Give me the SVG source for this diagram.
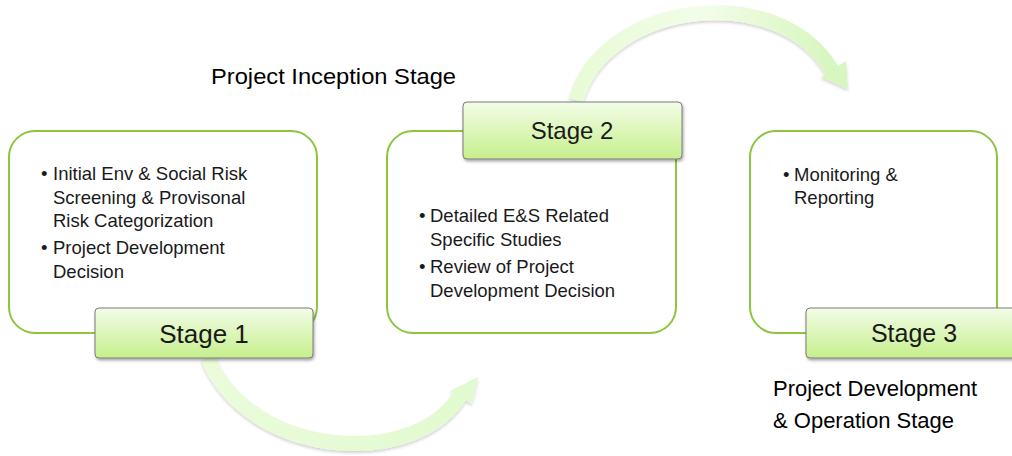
<svg xmlns="http://www.w3.org/2000/svg" width="1012" height="456" viewBox="0 0 1012 456">
<defs>
<linearGradient id="lbl" x1="0" y1="0" x2="0" y2="1">
<stop offset="0" stop-color="#f3fde8"/>
<stop offset="1" stop-color="#c6ef8c"/>
</linearGradient>
<linearGradient id="arrB" x1="0" y1="0" x2="1" y2="0">
<stop offset="0" stop-color="#eafcda"/>
<stop offset="1" stop-color="#e2fad0"/>
</linearGradient>
<linearGradient id="arrT" x1="0" y1="0" x2="1" y2="0">
<stop offset="0" stop-color="#e8fbd6"/>
<stop offset="0.5" stop-color="#f2fde8"/>
<stop offset="1" stop-color="#d8f6bf"/>
</linearGradient>
<filter id="sh" x="-10%" y="-20%" width="120%" height="150%">
<feDropShadow dx="1" dy="2" stdDeviation="1.5" flood-color="#000" flood-opacity="0.35"/>
</filter>
<filter id="ash" x="-10%" y="-20%" width="120%" height="150%">
<feDropShadow dx="0" dy="2" stdDeviation="1.5" flood-color="#000" flood-opacity="0.18"/>
</filter>
</defs>
<style>
.box{fill:#fff;stroke:#8cc63e;stroke-width:2}
.lbl{fill:url(#lbl);stroke:#7a7a7a;stroke-width:1}
.t{font-family:"Liberation Sans",Arial,sans-serif;fill:#1a1a1a}
.body{font-size:18.5px}
.stage{text-anchor:middle}
.title{font-size:22px;fill:#000}
</style>
<rect width="1012" height="456" fill="#fff"/>
<g id="connectors">
<g filter="url(#ash)">
<path d="M208,358 C250,460 420,470 462,392" fill="none" stroke="url(#arrB)" stroke-width="15"/>
<polygon points="478,377 450,391 472,404" fill="#e2fad0"/>
</g>
<g filter="url(#ash)">
<path d="M576,100 C605,0 780,-20 832,71" fill="none" stroke="url(#arrT)" stroke-width="15"/>
<polygon points="848,89 846,61 821,77" fill="#d8f6bf"/>
</g>
</g>
<g id="title-inception">
<text class="t title" x="211" y="84" textLength="245" lengthAdjust="spacingAndGlyphs">Project Inception Stage</text>
</g>
<g id="title-development">
<text class="t title" x="773" y="396">Project Development</text>
<text class="t title" x="773" y="428">&amp; Operation Stage</text>
</g>
<g id="stage1">
<rect class="box" x="9" y="131" width="308" height="202" rx="26"/>
<text class="t body" x="41" y="180">•</text>
<text class="t body" x="53" y="180">Initial Env &amp; Social Risk</text>
<text class="t body" x="53" y="203.5">Screening &amp; Provisonal</text>
<text class="t body" x="53" y="227">Risk Categorization</text>
<text class="t body" x="41" y="254">•</text>
<text class="t body" x="53" y="254">Project Development</text>
<text class="t body" x="53" y="277.5">Decision</text>
<rect class="lbl" x="95" y="308" width="218" height="50" rx="4" filter="url(#sh)"/>
<text class="t stage" x="204" y="343" font-size="26">Stage 1</text>
</g>
<g id="stage2">
<rect class="box" x="387" y="131" width="289" height="202" rx="26"/>
<text class="t body" x="419" y="222">•</text>
<text class="t body" x="430" y="222">Detailed E&amp;S Related</text>
<text class="t body" x="430" y="246">Specific Studies</text>
<text class="t body" x="419" y="273">•</text>
<text class="t body" x="430" y="273">Review of Project</text>
<text class="t body" x="430" y="297">Development Decision</text>
<rect class="lbl" x="463" y="102" width="219" height="57" rx="4" filter="url(#sh)"/>
<text class="t stage" x="572" y="139" font-size="24">Stage 2</text>
</g>
<g id="stage3">
<rect class="box" x="750" y="131" width="247" height="202" rx="26"/>
<text class="t body" x="783" y="181">•</text>
<text class="t body" x="794" y="181">Monitoring &amp;</text>
<text class="t body" x="794" y="203.5">Reporting</text>
<rect class="lbl" x="806" y="308" width="220" height="50" rx="4" filter="url(#sh)"/>
<text class="t stage" x="914" y="342" font-size="25">Stage 3</text>
</g>
</svg>
